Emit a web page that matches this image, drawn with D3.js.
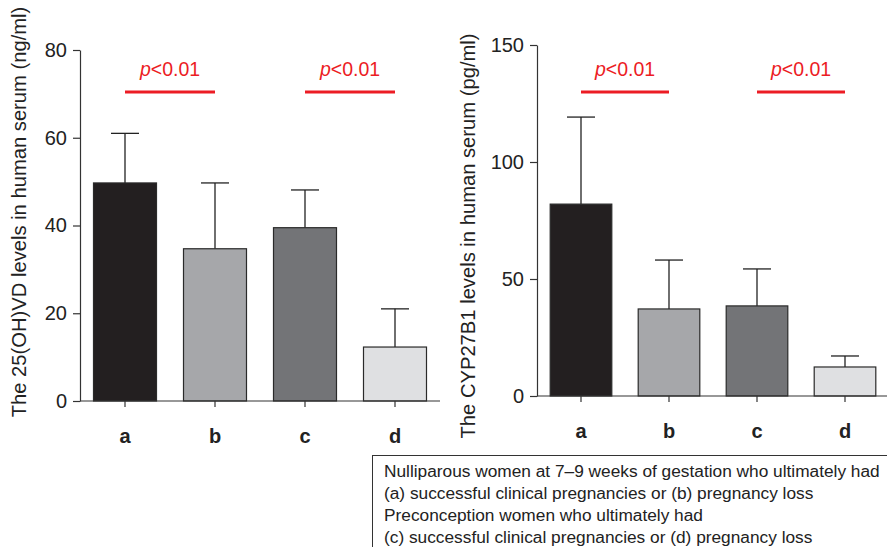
<!DOCTYPE html>
<html>
<head>
<meta charset="utf-8">
<script src="https://cdn.jsdelivr.net/npm/d3@7"></script>
<style>
  body { margin: 0; background: #fff; }
  svg { font-family: "Liberation Sans", Arial, sans-serif; }
  .axis path, .axis line { stroke: #333; stroke-width: 1.2; }
  .axis text { fill: #222; }
</style>
</head>
<body>
<svg id="chart" width="887" height="547"></svg>
<script>
// groups & values
const groups = ["a", "b", "c", "d"];
const barColors = ["#231f20", "#a6a7aa", "#737477", "#dfe0e2"];

const vdMeans = [49.7, 34.7, 39.5, 12.3];
const vdSD = [11.3, 15.0, 8.6, 8.7];
const vdTicks = [0, 20, 40, 60, 80];

const cypMeans = [82.0, 37.2, 38.5, 12.4];
const cypSD = [37.2, 20.9, 15.8, 4.7];
const cypTicks = [0, 50, 100, 150];

const comparisons = [["a", "b"], ["c", "d"]];
const pText = "<0.01";

const legendLines = [
  "Nulliparous women at 7\u20139 weeks of gestation who ultimately had",
  "(a) successful clinical pregnancies or (b) pregnancy loss",
  "Preconception women who ultimately had",
  "(c) successful clinical pregnancies or (d) pregnancy loss"
];

const svg = d3.select("#chart");

// one panel
function drawPanel(cfg) {
  const x = d3.scaleBand().domain(groups).range(cfg.xRange)
      .paddingInner(0.3).paddingOuter(0.15);
  const y = d3.scaleLinear().domain([0, cfg.ticks[cfg.ticks.length - 1]]).range(cfg.yRange);
  const g = svg.append("g");

  const data = groups.map((k, i) => ({key: k, mean: cfg.means[i], sd: cfg.sd[i], color: barColors[i]}));

  // error bars (upper only)
  const cap = 14;
  const eb = g.selectAll(".err").data(data).enter().append("g").attr("class", "err");
  eb.append("line")
    .attr("x1", d => x(d.key) + x.bandwidth() / 2).attr("x2", d => x(d.key) + x.bandwidth() / 2)
    .attr("y1", d => y(d.mean)).attr("y2", d => y(d.mean + d.sd))
    .attr("stroke", "#222").attr("stroke-width", 1.3);
  eb.append("line")
    .attr("x1", d => x(d.key) + x.bandwidth() / 2 - cap).attr("x2", d => x(d.key) + x.bandwidth() / 2 + cap)
    .attr("y1", d => y(d.mean + d.sd)).attr("y2", d => y(d.mean + d.sd))
    .attr("stroke", "#222").attr("stroke-width", 1.3);

  // bars
  g.selectAll(".bar").data(data).enter().append("rect")
    .attr("class", "bar")
    .attr("x", d => x(d.key)).attr("width", x.bandwidth())
    .attr("y", d => y(d.mean)).attr("height", d => y(0) - y(d.mean))
    .attr("fill", d => d.color)
    .attr("stroke", "#2a2a2a").attr("stroke-width", 1.2);

  // y axis
  const yAxis = d3.axisLeft(y).tickValues(cfg.ticks).tickSize(7).tickSizeOuter(0).tickPadding(6);
  g.append("g").attr("class", "axis")
    .attr("transform", "translate(" + cfg.xRange[0] + ",0)")
    .call(yAxis)
    .selectAll("text").style("font-size", "20px");

  // x axis
  const xAxis = d3.axisBottom(x).tickSize(6).tickSizeOuter(0).tickPadding(22);
  const xg = g.append("g").attr("class", "axis")
    .attr("transform", "translate(0," + y(0) + ")")
    .call(xAxis);
  xg.select(".domain").attr("d", "M" + cfg.xRange[0] + ",0H" + cfg.xRange[1]);
  xg.selectAll("text").style("font-size", "20px").style("font-weight", "bold").attr("fill", "#111");

  // y label
  g.append("text")
    .attr("transform", "translate(" + cfg.labelX + "," + cfg.labelY + ") rotate(-90)")
    .attr("text-anchor", "middle").attr("dy", "0.35em")
    .style("font-size", "20.2px").attr("fill", "#222")
    .text(cfg.label);

  // significance brackets
  comparisons.forEach(c => {
    const x1 = x(c[0]) + x.bandwidth() / 2;
    const x2 = x(c[1]) + x.bandwidth() / 2;
    g.append("line").attr("x1", x1).attr("x2", x2)
      .attr("y1", 92).attr("y2", 92)
      .attr("stroke", "#ec1c24").attr("stroke-width", 3);
    const t = g.append("text").attr("x", (x1 + x2) / 2).attr("y", 76)
      .attr("text-anchor", "middle").style("font-size", "19.5px").attr("fill", "#ec1c24");
    t.append("tspan").style("font-style", "italic").text("p");
    t.append("tspan").text(pText);
  });
}

drawPanel({
  means: vdMeans, sd: vdSD, ticks: vdTicks,
  xRange: [80, 440], yRange: [401, 50],
  label: "The 25(OH)VD levels in human serum (ng/ml)", labelX: 19, labelY: 212
});

drawPanel({
  means: cypMeans, sd: cypSD, ticks: cypTicks,
  xRange: [537, 889], yRange: [396, 45],
  label: "The CYP27B1 levels in human serum (pg/ml)", labelX: 468, labelY: 236
});

// legend box
const lg = svg.append("g");
lg.append("rect").attr("x", 372.5).attr("y", 455.5).attr("width", 520).attr("height", 100)
  .attr("fill", "none").attr("stroke", "#333").attr("stroke-width", 1);
lg.selectAll("text").data(legendLines).enter().append("text")
  .attr("x", 384).attr("y", (d, i) => 477 + i * 22)
  .style("font-size", "17.3px").attr("fill", "#222")
  .text(d => d);
</script>
</body>
</html>
